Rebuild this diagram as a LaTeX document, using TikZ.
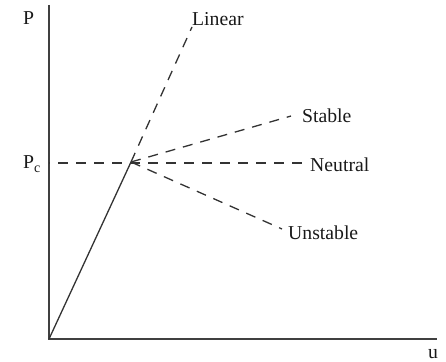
\documentclass[tikz,border=0pt]{standalone}
\usepackage{fontspec}
\setmainfont{Liberation Serif}
\begin{document}
\begin{tikzpicture}[x=1pt,y=-1pt,
  lbl/.style={anchor=base west,inner sep=0pt,font=\fontsize{19.7}{22}\selectfont,text=black!90},
  axis/.style={line width=1.5pt,draw=black!75},
  solidline/.style={line width=1.3pt,draw=black!80},
  dline/.style={line width=1.3pt,draw=black!80,dash pattern=on 10pt off 8pt}]
\useasboundingbox (0,0) rectangle (446,361);
% coordinates
\coordinate (O) at (49,339);
\coordinate (Ytop) at (49,5);
\coordinate (Xend) at (437,339);
\coordinate (C) at (131,162);
\coordinate (Pcaxis) at (49,163);
\coordinate (Lend) at (192,27);
\coordinate (Send) at (291,116);
\coordinate (Nend) at (303,163);
\coordinate (Uend) at (282,229);
% axes
\draw[axis] (Ytop) -- (O) -- (Xend);
% labels
\node[lbl] (P) at (23,25) {P};
\node[lbl] (Pc) at (23,168) {P\raisebox{-4pt}{\fontsize{14}{16}\selectfont c}};
\node[lbl] (u) at (428,358) {u};
\node[lbl] (lin) at (192,26) {Linear};
\node[lbl] (stab) at (302,122) {Stable};
\node[lbl] (neut) at (310,171) {Neutral};
\node[lbl] (unst) at (288,239) {Unstable};
% curves
\draw[solidline] (O) -- (C);
\draw[dline,dash phase=9pt] (Pcaxis) -- (Nend);
\draw[dline] (C) -- (Lend);
\draw[dline] (C) -- (Send);
\draw[dline] (C) -- (Uend);
\end{tikzpicture}
\end{document}
